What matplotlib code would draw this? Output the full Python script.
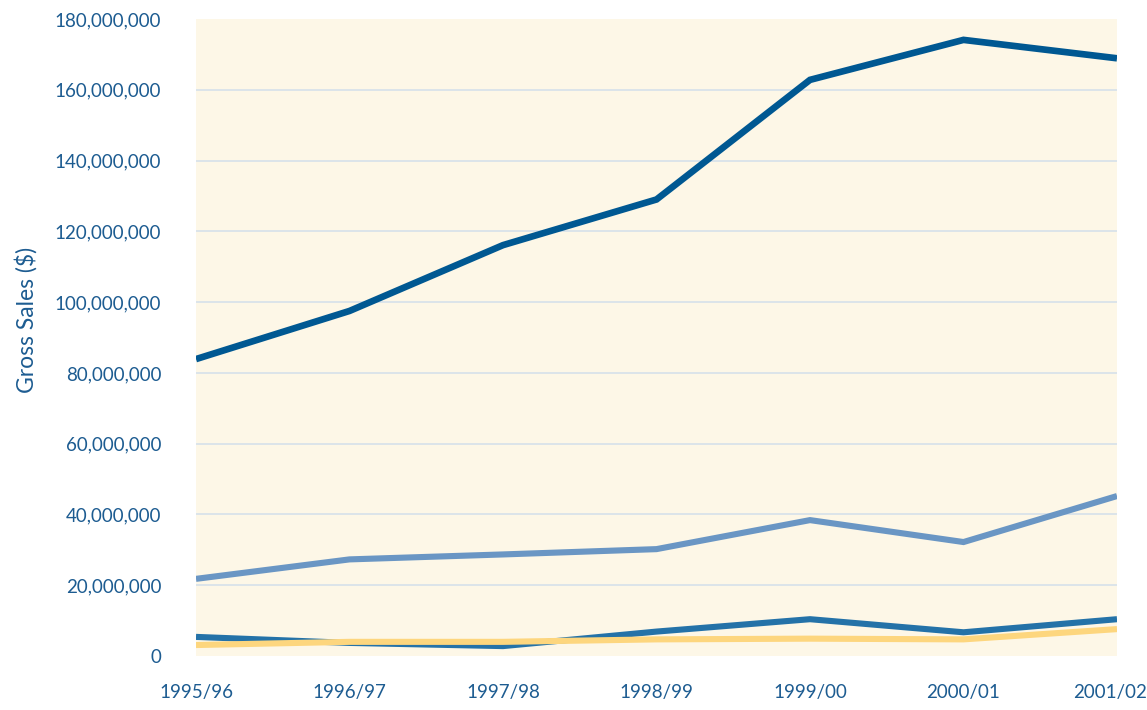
import matplotlib
matplotlib.use("Agg")
import matplotlib.pyplot as plt
from matplotlib.ticker import FuncFormatter
from matplotlib.transforms import ScaledTranslation

# data
years = ["1995/96", "1996/97", "1997/98", "1998/99", "1999/00", "2000/01", "2001/02"]
series_top = [83.9, 97.5, 116.1, 129.0, 162.8, 174.1, 168.9]      # millions $
series_second = [21.8, 27.3, 28.7, 30.2, 38.4, 32.2, 45.2]
series_third = [5.4, 3.7, 2.8, 6.9, 10.4, 6.7, 10.4]
series_fourth = [3.1, 4.0, 4.0, 4.7, 4.9, 4.7, 7.6]

text_col = "#1d5c91"
plt.rcParams['font.family'] = ['Lato', 'DejaVu Sans']

fig = plt.figure(figsize=(11.47, 7.10), dpi=100)
ax = fig.add_axes([196/1147, 54/710, 921/1147, 637/710])
ax.set_facecolor("#fdf7e7")

x = list(range(len(years)))
scale = 1e6
ax.plot(x, [v*scale for v in series_top], color="#005892", lw=4.8, solid_joinstyle='miter', solid_capstyle='butt', zorder=3)
ax.plot(x, [v*scale for v in series_second], color="#6a96c4", lw=4.4, solid_joinstyle='miter', solid_capstyle='butt', zorder=3)
ax.plot(x, [v*scale for v in series_third], color="#2472a8", lw=4.4, solid_joinstyle='miter', solid_capstyle='butt', zorder=3)
ax.plot(x, [v*scale for v in series_fourth], color="#fdd67e", lw=4.4, solid_joinstyle='miter', solid_capstyle='butt', zorder=4)

ax.set_xlim(0, len(years) - 1)
ax.set_ylim(0, 180e6)
ax.set_yticks([i*20e6 for i in range(10)])
ax.yaxis.set_major_formatter(FuncFormatter(lambda v, p: f"{int(v):,}"))
ax.set_xticks(x)
ax.set_xticklabels(years)

for s in ax.spines.values():
    s.set_visible(False)
ax.tick_params(axis='both', length=0, colors=text_col)
ax.tick_params(axis='y', labelsize=13.5, pad=25)
ax.tick_params(axis='x', labelsize=13.5, pad=20)

# last year label sits pulled in from the right edge
last = ax.get_xticklabels()[-1]
last.set_transform(last.get_transform() + ScaledTranslation(-0.07, 0, fig.dpi_scale_trans))

# gridlines only inside the plot, not at 0 or the top
for g in range(20, 180, 20):
    ax.axhline(g*1e6, color="#d6e1ea", lw=1.2, zorder=1)

ax.set_ylabel("Gross Sales ($)", color=text_col, fontsize=16.5)
ax.yaxis.set_label_coords(-0.1716, 0.527)

fig.savefig("out.png", dpi=100)
